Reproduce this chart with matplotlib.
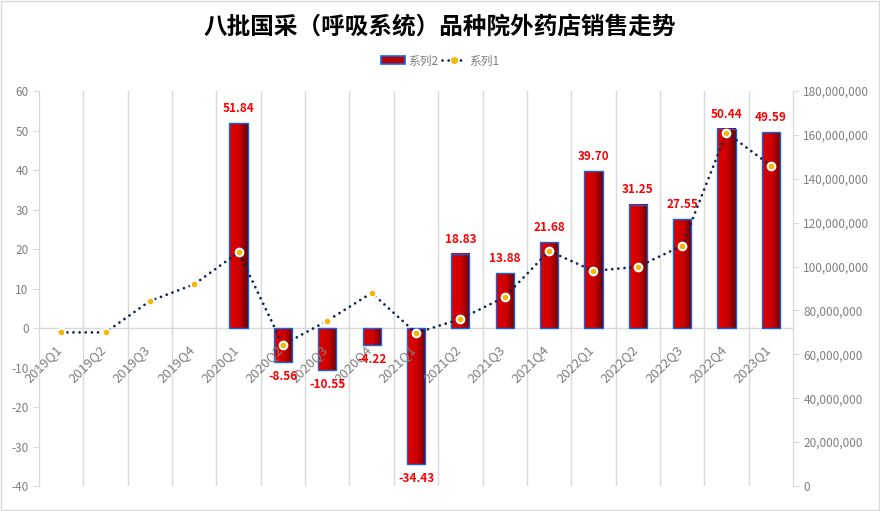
import matplotlib.pyplot as plt
import numpy as np
from matplotlib.colors import LinearSegmentedColormap
from matplotlib.patches import Patch, Rectangle
from matplotlib.lines import Line2D
from matplotlib.ticker import FuncFormatter

plt.rcParams['font.family'] = ['Noto Sans CJK SC', 'DejaVu Sans']
plt.rcParams['axes.unicode_minus'] = False

quarters = ["2019Q1", "2019Q2", "2019Q3", "2019Q4",
            "2020Q1", "2020Q2", "2020Q3", "2020Q4",
            "2021Q1", "2021Q2", "2021Q3", "2021Q4",
            "2022Q1", "2022Q2", "2022Q3", "2022Q4", "2023Q1"]
# 系列2: growth rate (%), left axis; no values for 2019
series2 = [None, None, None, None,
           51.84, -8.56, -10.55, -4.22,
           -34.43, 18.83, 13.88, 21.68,
           39.70, 31.25, 27.55, 50.44, 49.59]
# 系列1: sales, right axis
series1 = [70.0e6, 70.0e6, 84.3e6, 91.9e6,
           106.5e6, 64.3e6, 75.3e6, 88.0e6,
           69.7e6, 76.1e6, 86.1e6, 107.1e6,
           98.0e6, 99.9e6, 109.5e6, 161.0e6, 146.0e6]
left_ticks = [-40, -30, -20, -10, 0, 10, 20, 30, 40, 50, 60]
right_ticks = [0, 20e6, 40e6, 60e6, 80e6, 100e6, 120e6, 140e6, 160e6, 180e6]

grid_c = '#d9d9d9'
text_c = '#7f7f7f'
navy = '#0f2556'
yellow = '#f5b800'
edge_blue = '#1663e0'
red_cmap = LinearSegmentedColormap.from_list(
    'redgrad', [(0, '#e00000'), (0.55, '#cc0000'), (1, '#6a0000')])

fig = plt.figure(figsize=(8.8, 5.11), dpi=100)
ax = fig.add_axes([39/880, 25/511, (793-39)/880, (486-91)/511])
ax2 = ax.twinx()

x = np.arange(len(quarters))
bx = [i for i, v in enumerate(series2) if v is not None]
bv = [v for v in series2 if v is not None]
width = 0.41

bars = ax.bar(bx, bv, width, facecolor='none', edgecolor=edge_blue,
              linewidth=1.0, zorder=4)
grad = np.linspace(0, 1, 64).reshape(1, -1)
for b in bars:
    x0 = b.get_x()
    y0 = b.get_y()
    ax.imshow(grad, extent=[x0, x0 + b.get_width(), y0, y0 + b.get_height()],
              aspect='auto', cmap=red_cmap, zorder=3, interpolation='bilinear')

for i, v in zip(bx, bv):
    off = 10.5 if v >= 0 else -10.5
    ax.annotate(f"{v:.2f}", xy=(i, v), xytext=(0, off), textcoords='offset points',
                ha='center', va='center', color='#ff0000', fontsize=8.5,
                fontweight='bold', zorder=6)

# category labels sit on the zero line
for i, q in enumerate(quarters):
    ax.annotate(q, xy=(i, 0), xytext=(2, -10.5), textcoords='offset points',
                rotation=45, ha='right', va='top', color=text_c, fontsize=9.5,
                zorder=5)

ax.axhline(0, color=grid_c, lw=1, zorder=1)
ax.set_xlim(-0.5, len(quarters) - 0.5)
ax.set_ylim(-40, 60)
ax.set_yticks(left_ticks)
ax.set_xticks(np.arange(0.5, len(quarters) - 1, 1))
ax.set_xticklabels([])
ax.tick_params(axis='x', length=0)
ax.grid(axis='x', color=grid_c, lw=1)
ax.set_axisbelow(True)
ax.tick_params(axis='y', colors=grid_c, labelcolor=text_c, labelsize=8.5, length=4)

ax2.plot(x, series1, color=navy, linewidth=2.0, linestyle=(0, (0.01, 2.2)),
         dash_capstyle='round', marker='o', markersize=5.5,
         markerfacecolor=yellow, markeredgecolor='white', markeredgewidth=1.5,
         zorder=5)
ax2.set_ylim(0, 180e6)
ax2.set_yticks(right_ticks)
ax2.yaxis.set_major_formatter(FuncFormatter(lambda v, p: f"{v:,.0f}"))
ax2.tick_params(axis='y', colors=grid_c, labelcolor=text_c, labelsize=8.5, length=4)

for a in (ax, ax2):
    a.spines['top'].set_visible(False)
    a.spines['bottom'].set_visible(False)
    a.spines['left'].set_color(grid_c)
    a.spines['right'].set_color(grid_c)

fig.suptitle("八批国采（呼吸系统）品种院外药店销售走势", x=0.5, y=1 - 27/511,
             va='center', fontsize=17, fontweight='bold', color='black')

handles = [Patch(facecolor='#b80000', edgecolor=edge_blue, linewidth=1.2),
           Line2D([], [], color=navy, linewidth=2.0, linestyle=(0, (0.01, 2.2)),
                  dash_capstyle='round', marker='o', markersize=4,
                  markerfacecolor=yellow, markeredgecolor=yellow)]
fig.legend(handles, ["系列2", "系列1"], loc='center', ncol=2,
           bbox_to_anchor=(0.5, 1 - 61/511), frameon=False, fontsize=8.5,
           labelcolor=text_c, handlelength=2.0, handletextpad=0.3,
           columnspacing=0.3, handleheight=0.7)

fig.patches.append(Rectangle((0.001, 0.002), 0.998, 0.996, transform=fig.transFigure,
                             fill=False, edgecolor=grid_c, linewidth=1))

fig.savefig("out.png", dpi=100)
